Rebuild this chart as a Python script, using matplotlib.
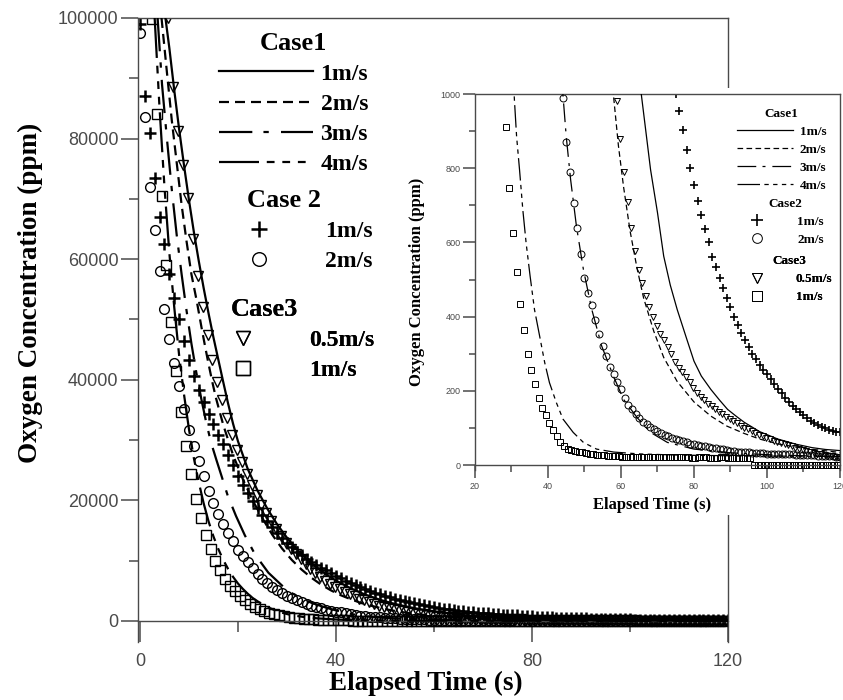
import matplotlib.pyplot as plt
from matplotlib.patches import Rectangle
import numpy as np

# Oxygen concentration (ppm) against elapsed time (s).
# Case 1 is drawn as lines: explicit time / value pairs.
c1_1ms_t = [5.2, 6, 7, 8, 9, 10, 11, 12, 13, 14, 15, 16, 17, 18, 19, 20, 22, 24, 26, 28,
            30, 32, 34, 36, 38, 40, 43, 46, 49, 52, 55, 58, 61, 64, 65.6, 68.1, 70, 71.7,
            73.5, 75.4, 78, 80, 82, 84.6, 87, 89.2, 91.5, 93.8, 98, 103, 108, 112.3, 116, 120]
c1_1ms_v = [100000, 95000, 88000, 81500, 75500, 69800, 64500, 59700, 55200, 51000, 47000,
            43300, 39600, 36000, 32700, 29800, 25200, 21600, 18600, 16000, 13800, 11900,
            10300, 8900, 7700, 6700, 5400, 4350, 3500, 2800, 2250, 1800, 1450, 1150, 996,
            796, 680, 563, 485, 419, 340, 280, 240, 204, 175, 150, 132, 115, 90, 70, 56,
            47, 42, 39]

c1_2ms_t = [4.4, 5.5, 6.5, 7.5, 8.5, 9.5, 10.5, 11.6, 12.6, 13.3, 13.9, 14.8, 15.5, 17, 19,
            21, 23, 25, 27, 29, 31, 33, 35, 37, 39, 41, 43, 45, 47, 49, 51, 53, 55, 56.5,
            57.9, 59.3, 60.7, 62.5, 64.4, 66.2, 69, 71.7, 75.4, 80, 84.6, 89, 93.8, 98, 103,
            110, 120]
c1_2ms_v = [100000, 91000, 83000, 76000, 69000, 63000, 57500, 53000, 48500, 45500, 43000,
            39500, 37000, 32500, 27500, 23500, 20000, 17000, 14300, 12000, 10100, 8500,
            7150, 6000, 5050, 4250, 3600, 3000, 2550, 2150, 1800, 1520, 1280, 1130, 1000,
            860, 750, 630, 530, 450, 360, 290, 225, 170, 132, 105, 85, 70, 57, 45, 34]

c1_3ms_t = [3.6, 4.5, 5.5, 6.5, 7.5, 8.5, 9.5, 10.5, 11.5, 12.5, 13.5, 14.5, 15.6, 16.7,
            17.9, 19.6, 21.4, 23.5, 26.2, 29.2, 31, 33, 35, 37, 39, 41, 42.5, 44.1, 45, 46.2,
            47.8, 49.7, 52, 54.7, 57.9, 60.7, 64.4, 68.1, 72.7, 80, 90, 100, 110, 120]
c1_3ms_v = [100000, 89000, 80000, 71500, 64000, 57500, 51500, 46000, 41200, 36900, 33000,
            29600, 26700, 23900, 20800, 17400, 14200, 11000, 8000, 5700, 4600, 3700, 3000,
            2450, 1950, 1550, 1260, 997, 885, 769, 643, 527, 419, 321, 240, 177, 128, 88,
            61, 43, 33, 28, 25, 23]

c1_4ms_t = [3.0, 4, 5, 6, 7, 8, 9, 10, 11, 12, 13, 14, 15, 16, 17, 18, 19, 20, 21, 22, 23,
            24, 25, 26, 27, 28, 29, 30, 30.8, 31.4, 32.2, 33.1, 34, 35.1, 36.3, 37.7, 39.1,
            40.4, 42.3, 44.1, 46.9, 49.7, 53.3, 58, 65, 75, 90, 105, 120]
c1_4ms_v = [100000, 85000, 72000, 61000, 52000, 44000, 37500, 31800, 27000, 23000, 19500,
            16500, 14000, 11900, 10100, 8600, 7300, 6200, 5300, 4500, 3800, 3250, 2750,
            2300, 1950, 1630, 1360, 1140, 984, 885, 796, 688, 599, 509, 419, 348, 276, 222,
            168, 124, 88, 61, 43, 35, 30, 27, 25, 24, 23]

# Case 2 / Case 3 are drawn as markers, one reading per second from a start time.
c2_1ms_t0 = 0.0
c2_1ms_v = [99000, 87000, 81000, 73500, 67000, 62500, 57500, 53500, 50000, 46500,
            43300, 40600, 38300, 36300, 34400, 32600, 30900, 29300, 27500, 25800,
            24100, 22600, 21200, 19900, 18700, 17600, 16500, 15500, 14600, 13700,
            12900, 12200, 11500, 10900, 10300, 9800, 9300, 8800, 8400, 7900,
            7500, 7100, 6700, 6300, 6000, 5600, 5300, 5000, 4700, 4450,
            4200, 3950, 3700, 3500, 3300, 3100, 2900, 2750, 2600, 2450,
            2300, 2170, 2050, 1930, 1820, 1720, 1620, 1530, 1450, 1370,
            1300, 1230, 1160, 1100, 1050, 1000, 955, 904, 848, 800,
            755, 711, 675, 635, 600, 561, 534, 505, 476, 450,
            425, 400, 378, 356, 336, 318, 300, 285, 270, 257,
            245, 231, 218, 205, 193, 181, 170, 160, 150, 142,
            134, 126, 118, 112, 107, 103, 99, 95, 92, 90,
            88]

c2_2ms_t0 = 0.0
c2_2ms_v = [97500, 83500, 72000, 64800, 58000, 51800, 46700, 42800, 39000, 35200,
            31700, 29000, 26600, 24000, 21600, 19600, 17700, 16100, 14600, 13200,
            11800, 10700, 9700, 8700, 7800, 7000, 6300, 5700, 5150, 4650,
            4200, 3800, 3400, 3100, 2800, 2550, 2300, 2080, 1880, 1700,
            1540, 1400, 1250, 1110, 990, 870, 790, 705, 640, 570,
            505, 465, 430, 390, 352, 320, 295, 265, 245, 225,
            205, 180, 163, 151, 137, 127, 117, 110, 103, 97,
            92, 86, 82, 78, 74, 71, 68, 64, 61, 58,
            56, 54, 52, 50, 48, 46, 45, 43, 42, 40,
            39, 38, 36, 35, 34, 34, 33, 33, 32, 32,
            31, 31, 30, 30, 30, 29, 29, 29, 28, 28,
            27, 27, 26, 26, 25, 25, 24, 24, 24, 23,
            23]

c3_05ms_t0 = 5.8
c3_05ms_v = [100000, 88500, 81300, 75600, 70100, 63400, 57200, 52000, 47400, 43300,
             39700, 36600, 33600, 30800, 28400, 26300, 24400, 22500, 20800, 19300,
             17900, 16500, 15200, 14100, 13000, 12000, 11100, 10200, 9400, 8600,
             7900, 7300, 6700, 6200, 5700, 5250, 4850, 4450, 4050, 3700,
             3400, 3100, 2800, 2550, 2300, 2100, 1900, 1730, 1590, 1460,
             1330, 1200, 1080, 980, 880, 790, 710, 640, 578, 527,
             490, 455, 427, 400, 375, 354, 336, 318, 299, 279,
             262, 250, 236, 223, 207, 193, 183, 174, 165, 158,
             150, 143, 137, 130, 124, 118, 112, 106, 101, 96,
             91, 86, 82, 78, 74, 70, 66, 62, 59, 56,
             53, 50, 47, 44, 41, 38, 36, 33, 31, 29,
             27, 25, 24, 22, 21]

c3_1ms_t0 = 2.4
c3_1ms_v = [99800, 84000, 70500, 59000, 49500, 41400, 34700, 29000, 24300, 20300,
            17000, 14200, 11900, 10000, 8400, 7000, 5850, 4900, 4100, 3400,
            2850, 2380, 1990, 1660, 1380, 1130, 910, 746, 625, 520,
            435, 364, 300, 255, 218, 182, 155, 134, 113, 95,
            78, 63, 52, 44, 40, 37, 35, 34, 32, 31,
            29, 28, 27, 26, 25, 25, 24, 24, 23, 23,
            23, 22, 22, 22, 22, 22, 21, 21, 21, 21,
            21, 21, 21, 21, 21, 21, 21, 20, 20, 21,
            21, 21, 20, 20, 20, 21, 21, 20, 20, 20,
            20, 20, 20, 20, 0, 0, 0, 0, 0, 0,
            0, 0, 0, 0, 0, 0, 0, 0, 0, 0,
            0, 0, 0, 0, 0, 0, 0, 0]

speed_labels_c1 = ['1m/s', '2m/s', '3m/s', '4m/s']
speed_labels_c2 = ['1m/s', '2m/s']
speed_labels_c3 = ['0.5m/s', '1m/s']

main_xticks = [0, 40, 80, 120]
main_xminor = [20, 60, 100]
main_yticks = [0, 20000, 40000, 60000, 80000, 100000]
main_yminor = [10000, 30000, 50000, 70000, 90000]
inset_xticks = [20, 40, 60, 80, 100, 120]
inset_xminor = [30, 50, 70, 90, 110]
inset_yticks = [0, 200, 400, 600, 800, 1000]
inset_yminor = [100, 300, 500, 700, 900]

SERIF = 'Liberation Serif'
SANS = 'Liberation Sans'
GRAY = '#4a4a4a'

DASH2 = (0, (4.5, 2.7))
DASH3 = (0, (15, 5, 2.4, 5.5))
DASH4 = (0, (18, 3.5, 3.5, 3.5, 3.5, 3.5, 3.5, 3.5))


def marker_times(t0, vals):
    return t0 + np.arange(len(vals))


def draw_series(ax, lw, ms, mew, plus_mew):
    lines = []
    for t, v, ls in [(c1_1ms_t, c1_1ms_v, '-'), (c1_2ms_t, c1_2ms_v, DASH2),
                     (c1_3ms_t, c1_3ms_v, DASH3), (c1_4ms_t, c1_4ms_v, DASH4)]:
        h, = ax.plot(t, v, color='black', lw=lw, ls=ls, zorder=3)
        lines.append(h)
    p1, = ax.plot(marker_times(c2_1ms_t0, c2_1ms_v), c2_1ms_v, ls='none', marker='+',
                  ms=ms + 1, mew=plus_mew, color='black', zorder=2)
    p2, = ax.plot(marker_times(c2_2ms_t0, c2_2ms_v), c2_2ms_v, ls='none', marker='o',
                  ms=ms, mew=mew, mfc='none', mec='black', zorder=2)
    q1, = ax.plot(marker_times(c3_05ms_t0, c3_05ms_v), c3_05ms_v, ls='none', marker='v',
                  ms=ms, mew=mew, mfc='none', mec='black', zorder=2)
    q2, = ax.plot(marker_times(c3_1ms_t0, c3_1ms_v), c3_1ms_v, ls='none', marker='s',
                  ms=ms, mew=mew, mfc='none', mec='black', zorder=2)
    return lines, [p1, p2], [q1, q2]


def case_legend(ax, handles, labels, title, anchor, fs, tfs, hl, pad, spacing, align,
                mscale=1.0):
    leg = ax.legend(handles, labels, title=title, loc='upper left', bbox_to_anchor=anchor,
                    frameon=False, borderpad=0, borderaxespad=0, handlelength=hl,
                    handletextpad=pad, labelspacing=spacing, alignment=align,
                    markerscale=mscale,
                    prop={'family': SERIF, 'weight': 'bold', 'size': fs},
                    title_fontproperties={'family': SERIF, 'weight': 'bold', 'size': tfs})
    ax.add_artist(leg)


def style_axes(ax, xt, xm, yt, ym, lsize, xlen, ylen, xpad, ypad):
    for s in ax.spines.values():
        s.set_color(GRAY)
        s.set_linewidth(1.0)
    ax.spines['bottom'].set_position(('data', 0))
    ax.set_xticks(xt)
    ax.set_xticks(xm, minor=True)
    ax.set_yticks(yt)
    ax.set_yticks(ym, minor=True)
    ax.set_xticklabels([str(v) for v in xt])
    ax.set_yticklabels([str(v) for v in yt])
    ax.tick_params(which='both', direction='out', color=GRAY, labelcolor=GRAY,
                   labelsize=lsize, width=1.1)
    ax.tick_params(axis='x', which='major', length=xlen, pad=xpad)
    ax.tick_params(axis='x', which='minor', length=xlen * 0.55)
    ax.tick_params(axis='y', which='major', length=ylen, pad=ypad)
    ax.tick_params(axis='y', which='minor', length=ylen * 0.55)
    for lab in ax.get_xticklabels() + ax.get_yticklabels():
        lab.set_family(SANS)


fig = plt.figure(figsize=(8.43, 7.0), dpi=100)

# main chart
ax = fig.add_axes([138 / 843, 58 / 700, 590 / 843, 624 / 700])
ax.set_xlim(-0.4, 120)
ax.set_ylim(-3500, 100000)
c1, c2, c3 = draw_series(ax, lw=1.6, ms=7, mew=1.0, plus_mew=1.8)
style_axes(ax, main_xticks, main_xminor, main_yticks, main_yminor, 13, 15, 12, 8, 2)
ax.set_xlabel('Elapsed Time (s)', family=SERIF, weight='bold', fontsize=19.5)
ax.xaxis.set_label_coords(0.488, -0.067)
ax.xaxis.label.set_verticalalignment('center')
ax.set_ylabel('Oxygen Concentration (ppm)', family=SERIF, weight='bold', fontsize=19.5)
ax.yaxis.set_label_coords(-0.182, 0.56)
ax.yaxis.label.set_verticalalignment('center')

case_legend(ax, c1, speed_labels_c1, 'Case1', (0.1373, 0.978), 17, 19, 4.0, 0.3, 0.36, 'center')
case_legend(ax, c2, speed_labels_c2, 'Case 2', (0.1847, 0.726), 17, 19, 1.0, 2.3, 0.36, 'left',
            mscale=1.4)
case_legend(ax, c3, speed_labels_c3, 'Case3', (0.1576, 0.551), 17, 19, 1.0, 2.33, 0.36, 'left',
            mscale=1.4)

# white backing behind the inset and its labels
fig.add_artist(Rectangle((405 / 843, 1 - 515 / 700), 1 - 405 / 843, (515 - 88) / 700,
                         transform=fig.transFigure, facecolor='white', edgecolor='none',
                         zorder=1.5))

# inset: zoom on the low-concentration tail
axi = fig.add_axes([475 / 843, (700 - 469.5) / 700, 365 / 843, 375.5 / 700], zorder=2)
axi.set_xlim(20, 120)
axi.set_ylim(-12, 1000)
i1, i2, i3 = draw_series(axi, lw=0.9, ms=5, mew=0.7, plus_mew=1.2)
style_axes(axi, inset_xticks, inset_xminor, inset_yticks, inset_yminor, 6.5, 9, 8.5, 3, 2)
axi.set_xlabel('Elapsed Time (s)', family=SERIF, weight='bold', fontsize=12)
axi.xaxis.set_label_coords(0.485, -0.095)
axi.xaxis.label.set_verticalalignment('center')
axi.set_ylabel('Oxygen Concentration (ppm)', family=SERIF, weight='bold', fontsize=12)
axi.yaxis.set_label_coords(-0.16, 0.5)
axi.yaxis.label.set_verticalalignment('center')

case_legend(axi, i1, speed_labels_c1, 'Case1', (0.718, 0.963), 9.5, 9.5, 4.25, 0.5, 0.44, 'center')
case_legend(axi, i2, speed_labels_c2, 'Case2', (0.745, 0.723), 9.5, 9.5, 1.5, 2.3, 0.44, 'center',
            mscale=1.4)
case_legend(axi, i3, speed_labels_c3, 'Case3', (0.745, 0.571), 9.5, 9.5, 1.5, 2.2, 0.44, 'center',
            mscale=1.4)

fig.savefig('out.png', dpi=100)
